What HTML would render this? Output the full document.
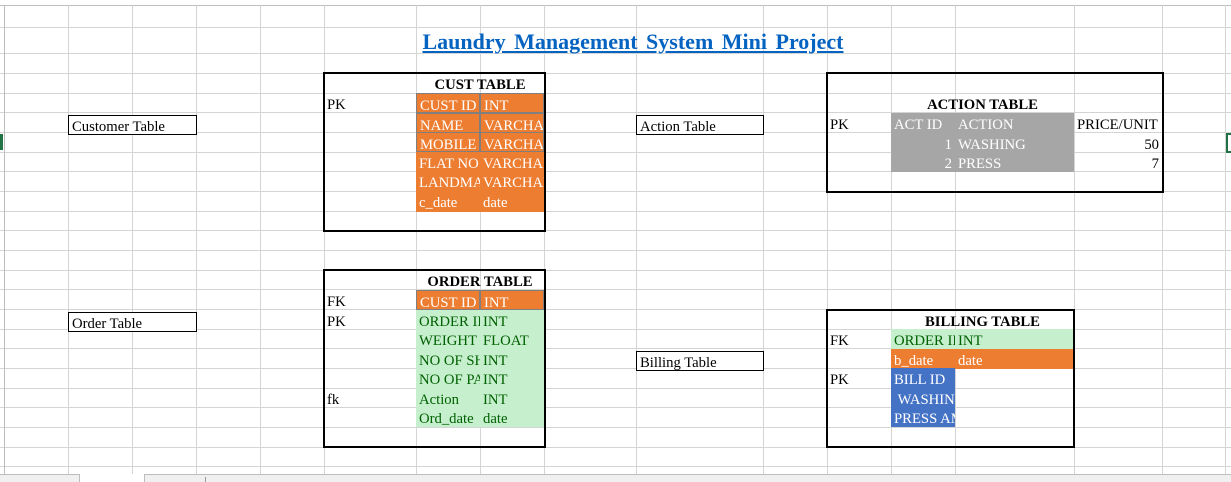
<!DOCTYPE html>
<html><head><meta charset="utf-8"><style>
html,body{margin:0;padding:0;}
body{width:1231px;height:482px;position:relative;overflow:hidden;background:#fff;font-family:"Liberation Serif",serif;}
.h{position:absolute;left:0;width:1231px;height:1px;background:#d4d4d4;}
.v{position:absolute;top:5px;height:469px;width:1px;background:#d4d4d4;}
.c{position:absolute;overflow:hidden;white-space:nowrap;font-size:14.7px;line-height:25px !important;padding-left:3px;box-sizing:border-box;color:#000;}
.o{background:#ED7D31;color:#fff;}
.g{background:#C6EFCE;color:#006100;}
.b{background:#4472C4;color:#fff;}
.gr{background:#A6A6A6;color:#fff;}
.box{position:absolute;border:2px solid #000;box-sizing:border-box;}
.lbl{position:absolute;border:1px solid #000;box-sizing:border-box;background:#fff;font-size:14.7px;line-height:22px;padding-left:3px;white-space:nowrap;overflow:hidden;}
.t{position:absolute;font-weight:bold;font-size:14.7px;text-align:center;white-space:nowrap;line-height:25px !important;}
</style></head><body>
<div class="h" style="top:5px;background:#bdbdbd"></div>
<div class="h" style="top:27px"></div><div class="h" style="top:53px"></div><div class="h" style="top:73px"></div>
<div class="h" style="top:93px"></div><div class="h" style="top:112px"></div><div class="h" style="top:132px"></div>
<div class="h" style="top:152px"></div><div class="h" style="top:171px"></div><div class="h" style="top:191px"></div>
<div class="h" style="top:211px"></div><div class="h" style="top:230px"></div><div class="h" style="top:250px"></div>
<div class="h" style="top:270px"></div><div class="h" style="top:289px"></div><div class="h" style="top:309px"></div>
<div class="h" style="top:329px"></div><div class="h" style="top:348px"></div><div class="h" style="top:368px"></div>
<div class="h" style="top:388px"></div><div class="h" style="top:407px"></div><div class="h" style="top:427px"></div>
<div class="h" style="top:447px"></div><div class="h" style="top:466px"></div>
<div class="v" style="left:4px;background:#bdbdbd"></div>
<div class="v" style="left:68px"></div><div class="v" style="left:132px"></div><div class="v" style="left:196px"></div>
<div class="v" style="left:260px"></div><div class="v" style="left:324px"></div><div class="v" style="left:416px"></div>
<div class="v" style="left:480px"></div><div class="v" style="left:544px"></div><div class="v" style="left:636px"></div>
<div class="v" style="left:763px"></div><div class="v" style="left:827px"></div><div class="v" style="left:891px"></div>
<div class="v" style="left:955px"></div><div class="v" style="left:1074px"></div><div class="v" style="left:1162px"></div>
<div class="v" style="left:1225px"></div>
<div style="position:absolute;left:0;top:134px;width:3px;height:16px;background:#217346"></div>
<div style="position:absolute;left:1226px;top:133px;width:5px;height:20px;border:2px solid #217346;border-right:none;box-sizing:border-box"></div>

<div style="position:absolute;left:330px;width:606px;top:28px;text-align:center;font-weight:bold;font-size:22px;line-height:28px;color:#0563C1;text-decoration:underline;word-spacing:3px;">Laundry Management System Mini Project</div>

<div class="lbl" style="left:68px;top:115px;width:129px;height:20px">Customer Table</div>
<div class="lbl" style="left:636px;top:115px;width:128px;height:20px">Action Table</div>
<div class="lbl" style="left:68px;top:312px;width:129px;height:20px">Order Table</div>
<div class="lbl" style="left:636px;top:351px;width:128px;height:20px">Billing Table</div>

<div class="t" style="left:416px;width:128px;top:73px">CUST TABLE</div>
<div class="c" style="left:324px;top:93px;width:90px;height:20px">PK</div>
<div class="c o" style="left:416px;top:93px;width:64px;height:20px;border:1px solid #7f7f7f">CUST ID</div>
<div class="c o" style="left:480px;top:93px;width:64px;height:20px;border:1px solid #7f7f7f">INT</div>
<div class="c o" style="left:416px;top:113px;width:64px;height:20px;border:1px solid #7f7f7f">NAME</div>
<div class="c o" style="left:480px;top:113px;width:64px;height:20px;border:1px solid #7f7f7f">VARCHAR</div>
<div class="c o" style="left:416px;top:132px;width:64px;height:20px;border:1px solid #7f7f7f">MOBILE NO</div>
<div class="c o" style="left:480px;top:132px;width:64px;height:20px;border:1px solid #7f7f7f">VARCHAR</div>
<div class="c o" style="left:416px;top:152px;width:64px;height:20px">FLAT NO</div>
<div class="c o" style="left:480px;top:152px;width:64px;height:20px">VARCHAR</div>
<div class="c o" style="left:416px;top:171px;width:64px;height:20px">LANDMARK</div>
<div class="c o" style="left:480px;top:171px;width:64px;height:20px">VARCHAR</div>
<div class="c o" style="left:416px;top:191px;width:64px;height:21px">c_date</div>
<div class="c o" style="left:480px;top:191px;width:64px;height:21px">date</div>
<div class="box" style="left:323px;top:72px;width:223px;height:160px"></div>

<div class="t" style="left:891px;width:183px;top:93px">ACTION TABLE</div>
<div class="c" style="left:827px;top:113px;width:64px;height:20px">PK</div>
<div class="c gr" style="left:891px;top:113px;width:183px;height:59px;padding:0"></div>
<div class="c" style="left:891px;top:113px;width:64px;height:20px;color:#fff">ACT ID</div>
<div class="c" style="left:955px;top:113px;width:119px;height:20px;color:#fff">ACTION</div>
<div class="c" style="left:891px;top:133px;width:64px;height:20px;color:#fff;text-align:right;padding:0 3px 0 0">1</div>
<div class="c" style="left:955px;top:133px;width:119px;height:20px;color:#fff">WASHING</div>
<div class="c" style="left:891px;top:152px;width:64px;height:20px;color:#fff;text-align:right;padding:0 3px 0 0">2</div>
<div class="c" style="left:955px;top:152px;width:119px;height:20px;color:#fff">PRESS</div>
<div class="c" style="left:1074px;top:113px;width:88px;height:20px">PRICE/UNIT</div>
<div class="c" style="left:1074px;top:133px;width:88px;height:20px;text-align:right;padding:0 3px 0 0">50</div>
<div class="c" style="left:1074px;top:152px;width:88px;height:20px;text-align:right;padding:0 3px 0 0">7</div>
<div class="box" style="left:826px;top:72px;width:338px;height:121px"></div>

<div class="t" style="left:416px;width:128px;top:270px">ORDER TABLE</div>
<div class="c" style="left:324px;top:290px;width:90px;height:20px">FK</div>
<div class="c" style="left:324px;top:310px;width:90px;height:20px">PK</div>
<div class="c" style="left:324px;top:388px;width:90px;height:20px">fk</div>
<div class="c o" style="left:416px;top:290px;width:64px;height:20px;border:1px solid #7f7f7f">CUST ID</div>
<div class="c o" style="left:480px;top:290px;width:64px;height:20px;border:1px solid #7f7f7f">INT</div>
<div class="c g" style="left:416px;top:310px;width:128px;height:117px;padding:0"></div>
<div class="c" style="color:#006100;left:416px;top:310px;width:64px;height:20px">ORDER ID</div>
<div class="c" style="color:#006100;left:480px;top:310px;width:64px;height:20px">INT</div>
<div class="c" style="color:#006100;left:416px;top:329px;width:64px;height:20px">WEIGHT</div>
<div class="c" style="color:#006100;left:480px;top:329px;width:64px;height:20px">FLOAT</div>
<div class="c" style="color:#006100;left:416px;top:349px;width:64px;height:20px">NO OF SHIRT</div>
<div class="c" style="color:#006100;left:480px;top:349px;width:64px;height:20px">INT</div>
<div class="c" style="color:#006100;left:416px;top:368px;width:64px;height:20px">NO OF PANT</div>
<div class="c" style="color:#006100;left:480px;top:368px;width:64px;height:20px">INT</div>
<div class="c" style="color:#006100;left:416px;top:388px;width:64px;height:20px">Action</div>
<div class="c" style="color:#006100;left:480px;top:388px;width:64px;height:20px">INT</div>
<div class="c" style="color:#006100;left:416px;top:407px;width:64px;height:20px">Ord_date</div>
<div class="c" style="color:#006100;left:480px;top:407px;width:64px;height:20px">date</div>
<div class="box" style="left:323px;top:269px;width:223px;height:179px"></div>

<div class="t" style="left:891px;width:183px;top:310px">BILLING TABLE</div>
<div class="c" style="left:827px;top:329px;width:64px;height:20px">FK</div>
<div class="c" style="left:827px;top:368px;width:64px;height:20px">PK</div>
<div class="c g" style="left:891px;top:329px;width:183px;height:20px;padding:0"></div>
<div class="c" style="color:#006100;left:891px;top:329px;width:64px;height:20px">ORDER ID</div>
<div class="c" style="color:#006100;left:955px;top:329px;width:64px;height:20px">INT</div>
<div class="c o" style="left:891px;top:349px;width:183px;height:20px">b_date</div>
<div class="c" style="color:#fff;left:955px;top:349px;width:64px;height:20px">date</div>
<div class="c b" style="left:891px;top:368px;width:64px;height:20px">BILL ID</div>
<div class="c b" style="left:891px;top:388px;width:64px;height:20px">&nbsp;WASHING</div>
<div class="c b" style="left:891px;top:407px;width:64px;height:20px">PRESS AMT</div>
<div class="box" style="left:826px;top:309px;width:249px;height:139px"></div>

<div style="position:absolute;left:0;top:474px;width:1231px;height:8px;background:#f0f0f0"></div>
<div style="position:absolute;left:0;top:474px;width:80px;height:8px;border-top:1px solid #bdbdbd;border-right:1px solid #bdbdbd;box-sizing:border-box"></div>
<div style="position:absolute;left:80px;top:474px;width:64px;height:8px;background:#fff"></div>
<div style="position:absolute;left:144px;top:474px;width:1087px;height:8px;border-top:1px solid #bdbdbd;border-left:1px solid #bdbdbd;box-sizing:border-box"></div>
<div style="position:absolute;left:205px;top:477px;width:1px;height:5px;background:#999"></div>
</body></html>
